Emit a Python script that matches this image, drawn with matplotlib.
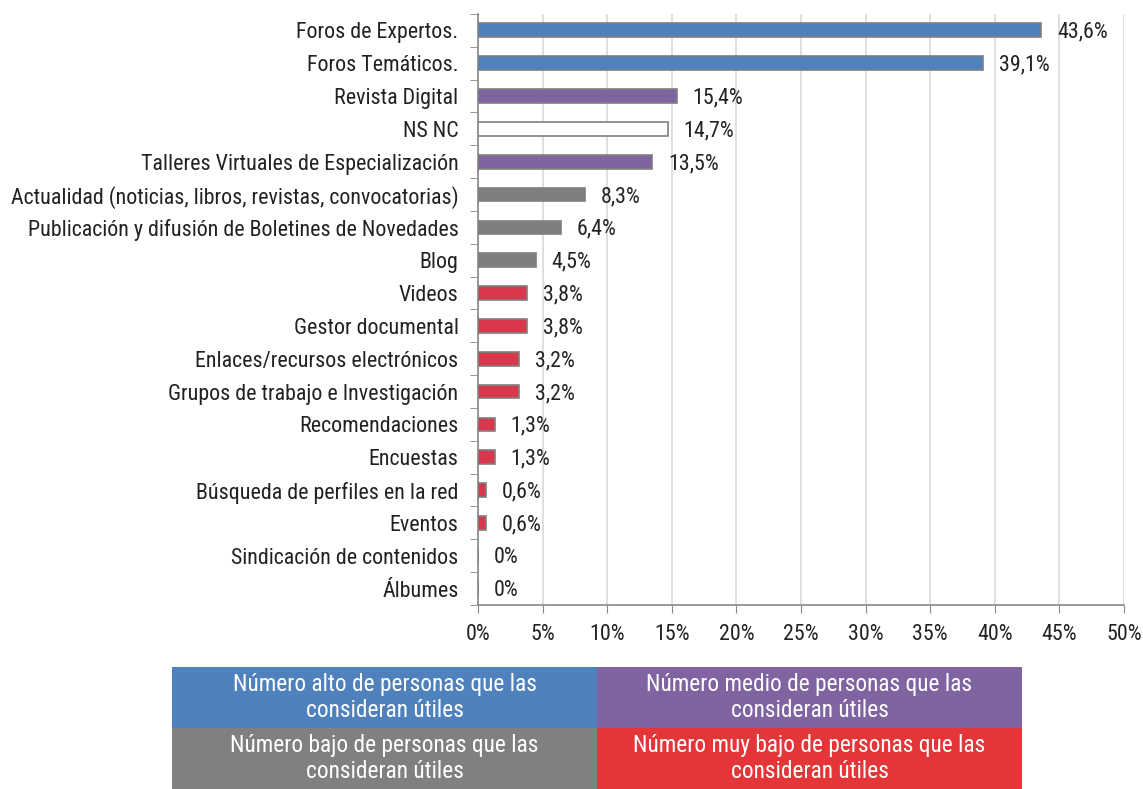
import matplotlib.pyplot as plt
import matplotlib.patches as mpatches

plt.rcParams['font.family'] = ['Roboto Condensed', 'Archivo Narrow', 'DejaVu Sans']

categories = ['Foros de Expertos.', 'Foros Temáticos.', 'Revista Digital', 'NS NC',
              'Talleres Virtuales de Especialización',
              'Actualidad (noticias, libros, revistas, convocatorias)',
              'Publicación y difusión de Boletines de Novedades', 'Blog', 'Videos',
              'Gestor documental', 'Enlaces/recursos electrónicos',
              'Grupos de trabajo e Investigación', 'Recomendaciones', 'Encuestas',
              'Búsqueda de perfiles en la red', 'Eventos',
              'Sindicación de contenidos', 'Álbumes']
values = [43.6, 39.1, 15.4, 14.7, 13.5, 8.3, 6.4, 4.5, 3.8, 3.8, 3.2, 3.2, 1.3, 1.3, 0.6, 0.6, 0, 0]
groups = ['alto', 'alto', 'medio', 'nsnc', 'medio', 'bajo', 'bajo', 'bajo',
          'muybajo', 'muybajo', 'muybajo', 'muybajo', 'muybajo', 'muybajo',
          'muybajo', 'muybajo', 'muybajo', 'muybajo']
xticks = [0, 5, 10, 15, 20, 25, 30, 35, 40, 45, 50]

bar_colors = {'alto': '#4F81BD', 'medio': '#8064A2', 'bajo': '#7F7F7F',
              'muybajo': '#D7384B', 'nsnc': 'white'}
legend_items = [('Número alto de personas que las\nconsideran útiles', '#4F81BD'),
                ('Número medio de personas que las\nconsideran útiles', '#8064A2'),
                ('Número bajo de personas que las\nconsideran útiles', '#808080'),
                ('Número muy bajo de personas que las\nconsideran útiles', '#E43638')]

fs = 15.8

fig = plt.figure(figsize=(11.43, 7.89), dpi=100)
ax = fig.add_axes([0.4182, 0.2332, 0.5652, 0.7491])

ypos = list(range(len(categories)))
ax.barh(ypos, values, height=0.42,
        color=[bar_colors[g] for g in groups], edgecolor='#7F7F7F', linewidth=1.2, zorder=3)

for y, v in zip(ypos, values):
    label = ('%g' % v).replace('.', ',') + '%'
    ax.text(v + 1.2, y + 0.06, label, va='center', ha='left', fontsize=fs, color='#222222')

ax.set_xlim(0, 50)
ax.set_ylim(len(categories) - 0.5, -0.5)
ax.set_xticks(xticks)
ax.set_xticklabels(['%d%%' % t for t in xticks], fontsize=fs)
ax.set_yticks(ypos)
ax.set_yticklabels(categories, fontsize=fs)
ax.tick_params(axis='y', length=0, pad=14, colors='#222222')
ax.tick_params(axis='x', length=6, color='#888888', pad=8, labelcolor='#222222')
# category boundary ticks on the y axis
ax.set_yticks([i - 0.5 for i in range(len(categories) + 1)], minor=True)
ax.tick_params(axis='y', which='minor', length=6, color='#888888')

ax.grid(axis='x', color='#D9D9D9', linewidth=1.2, zorder=0)
for s in ['top', 'right']:
    ax.spines[s].set_visible(False)
for s in ['left', 'bottom']:
    ax.spines[s].set_color('#888888')
    ax.spines[s].set_linewidth(1.2)

# legend table below
W, H = 1143.0, 789.0
cell_w = 425.0
cell_h = 61.0
x0, y0 = 172.0, 667.0
for i, (txt, col) in enumerate(legend_items):
    r, c = divmod(i, 2)
    left = x0 + c * cell_w
    top = y0 + r * cell_h
    fig.patches.append(mpatches.Rectangle((left / W, 1 - (top + cell_h) / H), cell_w / W, cell_h / H,
                                          transform=fig.transFigure, facecolor=col, edgecolor='none'))
    fig.text((left + cell_w / 2) / W, 1 - (top + cell_h / 2) / H, txt, ha='center', va='center',
             color='white', fontsize=16.8, linespacing=1.2)

fig.savefig('out.png', dpi=100)
